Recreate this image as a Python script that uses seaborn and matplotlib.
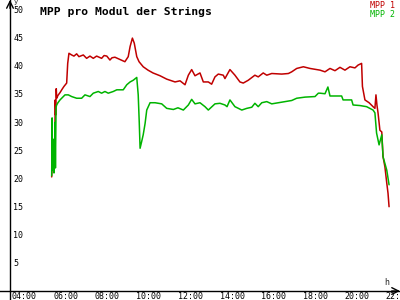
import matplotlib
matplotlib.use("Agg")
import matplotlib.pyplot as plt
import seaborn as sns
import pandas as pd
import numpy as np

# ---- data (hours of day, value) ----
mpp1_hours = [5.73, 5.77, 5.79, 5.82, 5.87, 5.90, 5.92, 5.95, 5.97, 6.03, 6.13, 6.23, 6.32, 6.45,
              6.50, 6.56, 6.69, 6.80, 6.93, 7.04, 7.25, 7.41, 7.57, 7.73, 7.89, 8.13, 8.25, 8.38,
              8.53, 8.63, 8.77, 9.01, 9.25, 9.41, 9.50, 9.61, 9.70, 9.82, 9.93, 10.13, 10.36,
              10.60, 10.94, 11.26, 11.66, 11.90, 12.14, 12.30, 12.46, 12.62, 12.86, 13.02, 13.26,
              13.42, 13.58, 13.74, 13.98, 14.06, 14.30, 14.54, 14.78, 14.94, 15.18, 15.50, 15.66,
              15.90, 16.07, 16.31, 16.79, 17.11, 17.27, 17.51, 17.83, 18.15, 18.47, 18.63, 18.87,
              19.11, 19.35, 19.59, 19.83, 20.07, 20.31, 20.46, 20.63, 20.67, 20.79, 20.99, 21.18,
              21.27, 21.32, 21.37, 21.42, 21.51, 21.60, 21.66, 21.75, 21.84, 21.90, 21.95]
mpp1_values = [20.3, 24.0, 25.6, 23.0, 22.8, 34.0, 31.3, 36.0, 34.3, 34.8, 35.3, 35.9, 36.4, 37.0,
               40.5, 42.3, 42.0, 41.8, 42.2, 41.7, 42.0, 41.4, 41.8, 41.4, 41.8, 41.4, 41.9, 41.8,
               41.1, 41.5, 41.6, 41.2, 40.8, 41.7, 43.5, 45.0, 44.1, 41.7, 40.8, 39.9, 39.3,
               38.8, 38.3, 37.7, 37.2, 37.4, 36.7, 38.4, 39.4, 38.3, 38.8, 37.2, 37.2,
               36.8, 38.1, 38.6, 38.4, 37.8, 39.4, 38.4, 37.2, 37.0, 37.5, 38.4, 38.1,
               38.8, 38.4, 38.7, 38.6, 38.7, 39.0, 39.6, 39.9, 39.6, 39.4, 39.3, 39.0,
               39.6, 39.2, 39.8, 39.3, 39.9, 39.7, 40.2, 40.5, 36.4, 34.0, 33.5, 32.8,
               32.5, 34.9, 33.0, 31.7, 28.6, 28.3, 23.9, 22.1, 19.2, 17.4, 15.0]

mpp2_hours = [5.73, 5.75, 5.77, 5.82, 5.84, 5.87, 5.89, 5.91, 5.94, 5.97, 6.03, 6.13, 6.21, 6.29,
              6.37, 6.53, 6.69, 6.93, 7.17, 7.33, 7.57, 7.73, 7.97, 8.13, 8.29, 8.45, 8.69, 8.86,
              9.17, 9.34, 9.50, 9.65, 9.82, 9.89, 9.94, 9.98, 10.05, 10.13, 10.22, 10.30, 10.46,
              10.70, 11.02, 11.26, 11.58, 11.80, 12.06, 12.30, 12.46, 12.62, 12.86, 13.10, 13.26,
              13.58, 13.82, 14.06, 14.16, 14.30, 14.54, 14.87, 15.11, 15.35, 15.50, 15.66, 15.83,
              16.07, 16.31, 16.63, 17.27, 17.51, 17.91, 18.39, 18.55, 18.63, 18.87, 19.01, 19.11,
              19.67, 19.74, 20.15, 20.22, 20.55, 20.87, 21.18, 21.27, 21.35, 21.47, 21.60, 21.66,
              21.84, 21.95]
mpp2_values = [20.5, 30.8, 21.5, 27.0, 21.0, 25.0, 30.0, 21.9, 32.7, 33.1, 33.5, 34.0, 34.3, 34.6,
               34.9, 34.9, 34.6, 34.3, 34.3, 34.9, 34.6, 35.2, 35.5, 35.2, 35.5, 35.2, 35.5, 35.8,
               35.8, 36.7, 37.2, 37.5, 38.0, 34.9, 30.0, 25.4, 26.5, 27.8, 29.8, 32.2, 33.5,
               33.5, 33.3, 32.5, 32.3, 32.6, 32.2, 33.1, 34.1, 33.3, 33.5, 32.8, 32.2,
               33.3, 33.4, 33.1, 32.8, 34.0, 32.8, 32.2, 32.5, 32.7, 33.4, 32.8, 33.5,
               33.7, 33.3, 33.5, 33.9, 34.3, 34.5, 34.6, 35.2, 35.2, 35.1, 36.3, 34.7,
               34.7, 34.0, 34.0, 33.1, 33.0, 32.8, 32.2, 31.7, 28.1, 26.0, 27.8, 23.9,
               21.5, 18.9]

series_names = ["MPP 1", "MPP 2"]
series_colors = ["#c00000", "#00b400"]
title = "MPP pro Modul der Strings"
x_ticks = [4, 6, 8, 10, 12, 14, 16, 18, 20, 22]
x_tick_labels = ["04:00", "06:00", "08:00", "10:00", "12:00", "14:00", "16:00", "18:00", "20:00", "22:00"]
y_ticks = [5, 10, 15, 20, 25, 30, 35, 40, 45, 50]

df = pd.concat([
    pd.DataFrame({"h": mpp1_hours, "v": mpp1_values, "s": series_names[0]}),
    pd.DataFrame({"h": mpp2_hours, "v": mpp2_values, "s": series_names[1]}),
])

sns.set_theme(style="white")
plt.rcParams["font.family"] = ["DejaVu Sans Mono", "DejaVu Sans"]

fig = plt.figure(figsize=(4, 3), dpi=100)
ax = fig.add_axes([0, 0, 1, 1])
fig.patch.set_facecolor("white")
ax.set_facecolor("white")

sns.lineplot(data=df, x="h", y="v", hue="s", palette=series_colors, ax=ax,
             legend=False, linewidth=1.1, estimator=None, sort=False, zorder=3)

ax.set_xlim(3.245, 22.476)
ax.set_ylim(-1.6, 51.78)
yaxis_x = 3.726

for k in ["top", "right"]:
    ax.spines[k].set_visible(False)
ax.spines["left"].set_position(("data", yaxis_x))
ax.spines["bottom"].set_position(("data", 0))
for k in ["left", "bottom"]:
    ax.spines[k].set_color("black")
    ax.spines[k].set_linewidth(1.0)

ax.set_xticks(x_ticks)
ax.set_yticks(y_ticks)
ax.set_xticklabels([])
ax.set_yticklabels([])
ax.tick_params(axis="both", direction="inout", length=6, width=1, color="black")
ax.set_xlabel("")
ax.set_ylabel("")
ax.grid(False)

fs = 6.0
for t, lab in zip(x_ticks, x_tick_labels):
    ax.annotate(lab, xy=(t, 0), xycoords="data", xytext=(-3, -0.8), textcoords="offset points",
                ha="left", va="top", fontsize=fs, color="black", annotation_clip=False)
for t in y_ticks:
    ax.annotate(str(t), xy=(yaxis_x, t), xycoords="data", xytext=(2.5, -0.5), textcoords="offset points",
                ha="left", va="center", fontsize=fs, color="black")

# axis arrows
ax.annotate("", xy=(1.0, 0), xycoords=("axes fraction", "data"),
            xytext=(-6, 0), textcoords="offset points",
            arrowprops=dict(arrowstyle="->", color="black", lw=1, shrinkA=0, shrinkB=0))
ax.annotate("", xy=(yaxis_x, 1.0), xycoords=("data", "axes fraction"),
            xytext=(0, -6), textcoords="offset points",
            arrowprops=dict(arrowstyle="->", color="black", lw=1, shrinkA=0, shrinkB=0))
ax.annotate("y", xy=(yaxis_x, 1.0), xycoords=("data", "axes fraction"),
            xytext=(2.5, 1), textcoords="offset points", ha="left", va="top", fontsize=5)
ax.annotate("h", xy=(1.0, 0), xycoords=("axes fraction", "data"),
            xytext=(-11, 3), textcoords="offset points", ha="left", va="bottom", fontsize=fs)

fig.text(0.1, 0.977, title, ha="left", va="top", fontsize=8.2, fontweight="bold", color="black")
fig.text(0.988, 0.995, series_names[0], ha="right", va="top", fontsize=fs, color=series_colors[0])
fig.text(0.988, 0.968, series_names[1], ha="right", va="top", fontsize=fs, color=series_colors[1])

fig.savefig("out.png", dpi=100)
